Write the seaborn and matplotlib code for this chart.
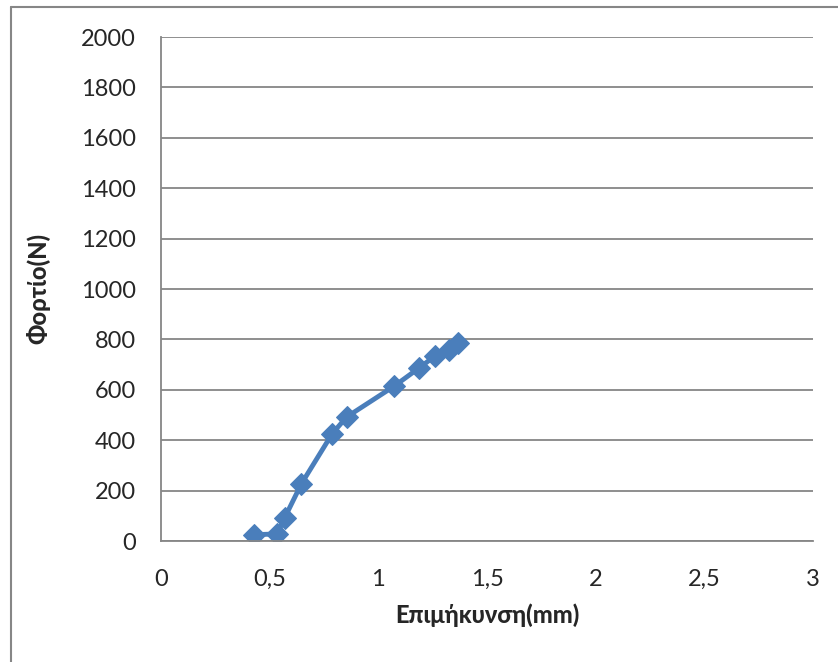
import numpy as np
import pandas as pd
import seaborn as sns
import matplotlib.pyplot as plt
from matplotlib.lines import Line2D

# Elongation (mm) and load (N)
elongation = [0.427, 0.535, 0.569, 0.646, 0.788, 0.854, 1.072, 1.188, 1.259, 1.323, 1.366]
load = [25, 28, 92, 227, 426, 492, 614, 687, 733, 757, 786]
x_ticks = [0, 0.5, 1, 1.5, 2, 2.5, 3]
x_labels = ['0', '0,5', '1', '1,5', '2', '2,5', '3']
y_ticks = [0, 200, 400, 600, 800, 1000, 1200, 1400, 1600, 1800, 2000]

df = pd.DataFrame({'x': elongation, 'y': load})

sns.set_style('white')
plt.rcParams['font.family'] = ['Lato', 'DejaVu Sans']

fig = plt.figure(figsize=(8.38, 6.62), dpi=100)
ax = fig.add_axes([161/838, 1 - 541/662, (813 - 161)/838, (541 - 37)/662])

sns.lineplot(data=df, x='x', y='y', ax=ax, color='#4a7ebb', linewidth=3.5,
             marker='D', markersize=11, markeredgecolor='#4a7ebb', sort=False)

ax.set_xlim(0, 3)
ax.set_ylim(0, 2000)
ax.set_xticks(x_ticks)
ax.set_xticklabels(x_labels)
ax.set_yticks(y_ticks)
ax.yaxis.grid(True, color='#868686', linewidth=1.3)
ax.set_axisbelow(True)

for s in ['top', 'right']:
    ax.spines[s].set_visible(False)
for s in ['left', 'bottom']:
    ax.spines[s].set_color('#868686')
    ax.spines[s].set_linewidth(1.3)

ax.tick_params(axis='both', which='major', labelsize=17, length=6, width=1.3,
               color='#868686', direction='out')
ax.tick_params(axis='y', pad=12)
ax.tick_params(axis='x', pad=14)

ax.set_xlabel('Επιμήκυνση(mm)', fontsize=17, fontweight='black', labelpad=10)
ax.set_ylabel('Φορτίο(N)', fontsize=17, fontweight='black', labelpad=22)

# outer chart border (top and left edges visible in the crop)
fig.lines.append(Line2D([10.5/838, 1], [1 - 7/662, 1 - 7/662], transform=fig.transFigure,
                        color='#868686', linewidth=1.5))
fig.lines.append(Line2D([10.5/838, 10.5/838], [0, 1 - 7/662], transform=fig.transFigure,
                        color='#868686', linewidth=1.5))

fig.savefig('out.png', dpi=100)
